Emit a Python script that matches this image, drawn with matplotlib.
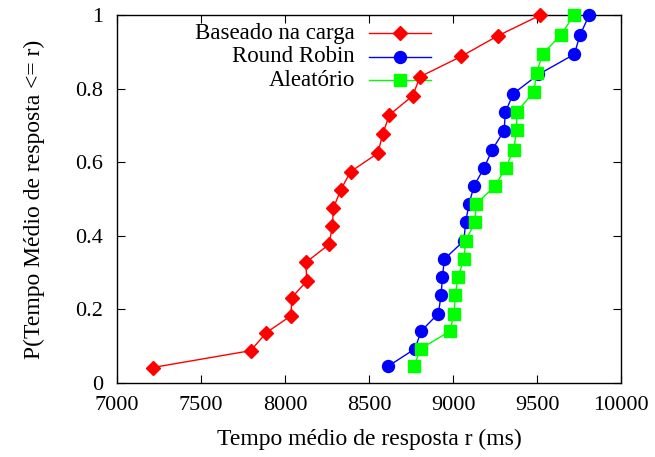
import matplotlib
matplotlib.use("Agg")
import matplotlib.pyplot as plt
from matplotlib.lines import Line2D

plt.rcParams['font.family'] = ['Liberation Serif', 'DejaVu Serif']

# ---- data ----
carga_x = [7212, 7796, 7889, 8036, 8040, 8129, 8125, 8262, 8282, 8288,
           8331, 8391, 8553, 8581, 8621, 8760, 8804, 9048, 9266, 9518]
carga_y = [0.042, 0.088, 0.137, 0.183, 0.232, 0.277, 0.328, 0.377, 0.426, 0.475,
           0.525, 0.575, 0.625, 0.676, 0.729, 0.781, 0.833, 0.888, 0.944, 1.0]

rr_x = [8615, 8774, 8810, 8913, 8929, 8937, 8949, 9065, 9075, 9095,
        9125, 9186, 9234, 9304, 9312, 9359, 9508, 9722, 9756, 9810]
rr_y = [0.046, 0.093, 0.141, 0.189, 0.239, 0.288, 0.337, 0.387, 0.437, 0.486,
        0.536, 0.586, 0.635, 0.686, 0.737, 0.787, 0.839, 0.894, 0.946, 1.0]

ale_x = [8768, 8807, 8982, 9006, 9014, 9030, 9065, 9075, 9131, 9137,
         9250, 9315, 9361, 9379, 9379, 9482, 9498, 9534, 9641, 9720]
ale_y = [0.046, 0.093, 0.141, 0.189, 0.239, 0.288, 0.337, 0.387, 0.437, 0.486,
         0.536, 0.586, 0.635, 0.688, 0.737, 0.792, 0.844, 0.895, 0.946, 1.0]

labels = ["Baseado na carga", "Round Robin", "Aleatório"]
x_ticks = [7000, 7500, 8000, 8500, 9000, 9500, 10000]
y_ticks = [0, 0.2, 0.4, 0.6, 0.8, 1]
y_tick_labels = ["0", "0.2", "0.4", "0.6", "0.8", "1"]

W, H = 655, 457
fig = plt.figure(figsize=(W / 100, H / 100), dpi=100)
L, R, T, B = 117, 621, 15.3, 383
ax = fig.add_axes([L / W, 1 - B / H, (R - L) / W, (B - T) / H])

styles = [
    dict(color='#ff0000', marker='D', markersize=7.0),
    dict(color='#0000ff', marker='o', markersize=8.6),
    dict(color='#00ff00', marker='s', markersize=8.6),
]
series = [(carga_x, carga_y), (rr_x, rr_y), (ale_x, ale_y)]
for (xs, ys), st in zip(series, styles):
    ax.plot(xs, ys, linewidth=1.0, clip_on=False, zorder=3, **st)

ax.set_xlim(7000, 10000)
ax.set_ylim(0, 1)
ax.set_xticks(x_ticks)
ax.set_xticklabels([str(v) for v in x_ticks])
ax.set_yticks(y_ticks)
ax.set_yticklabels(y_tick_labels)
ax.tick_params(direction='in', length=6, width=0.8, top=True, right=True,
               labelsize=16, colors='black')
ax.tick_params(axis='x', pad=9)
ax.tick_params(axis='y', pad=10)
for sp in ax.spines.values():
    sp.set_linewidth(1.0)

ax.set_xlabel("Tempo médio de resposta r (ms)", fontsize=17, labelpad=10)
ax.set_ylabel("P(Tempo Médio de resposta <= r)", fontsize=17, labelpad=22)

# manual gnuplot-style legend
def ax_x(px):
    return (px - L) / (R - L)

def ax_y(py):
    return (B - py) / (B - T)

rows = [33.3, 56.7, 80.0]
for lab, st, py in zip(labels, styles, rows):
    ax.text(ax_x(355), ax_y(py), lab, transform=ax.transAxes, ha='right',
            va='center', fontsize=16.5)
    ax.add_line(Line2D([ax_x(369), ax_x(431)], [ax_y(py), ax_y(py)],
                       transform=ax.transAxes, color=st['color'], linewidth=1.0))
    ax.add_line(Line2D([ax_x(400)], [ax_y(py)], transform=ax.transAxes,
                       color=st['color'], marker=st['marker'],
                       markersize=st['markersize'], linestyle='none'))

fig.savefig("out.png", dpi=100)
